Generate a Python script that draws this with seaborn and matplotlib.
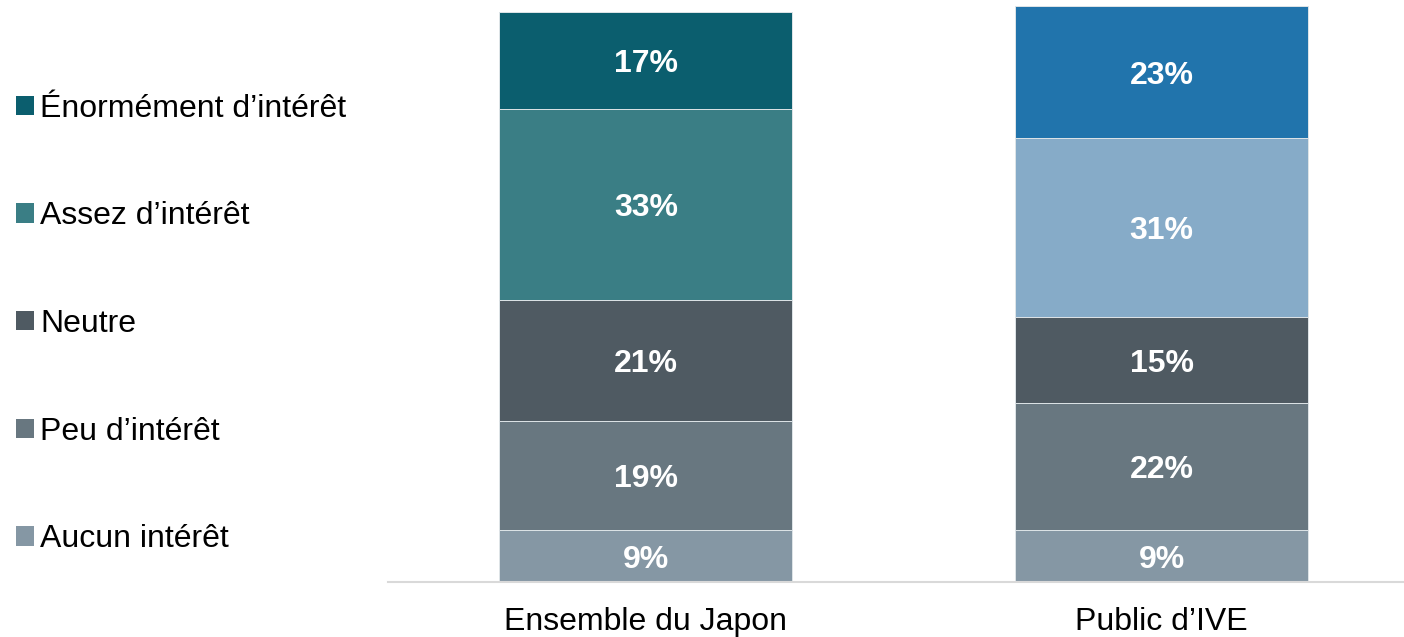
import seaborn as sns
import matplotlib.pyplot as plt
import numpy as np
import pandas as pd
from matplotlib.patches import Patch

# data
categories = ['Ensemble du Japon', 'Public d\u2019IVE']
levels = ['Aucun int\u00e9r\u00eat', 'Peu d\u2019int\u00e9r\u00eat', 'Neutre',
          'Assez d\u2019int\u00e9r\u00eat', '\u00c9norm\u00e9ment d\u2019int\u00e9r\u00eat']
japon = [9, 19, 21, 33, 17]
ive = [9, 22, 15, 31, 23]

# colours per level: (Japon bar, IVE bar)
level_colors = [('#8597a4', '#8597a4'),
                ('#687780', '#687780'),
                ('#4f5a62', '#4f5a62'),
                ('#3a7e85', '#86abc8'),
                ('#0b5e6e', '#2174ac')]

sns.set_theme(style='white')
plt.rcParams['font.family'] = ['Liberation Sans', 'DejaVu Sans']
plt.rcParams['text.color'] = 'black'

fig = plt.figure(figsize=(14.04, 6.37), dpi=100)
ax = fig.add_axes([388 / 1404, 55 / 637, 1 - 388 / 1404, 582 / 637])

cum_j = np.cumsum(japon)
cum_i = np.cumsum(ive)

# draw cumulative totals from top to bottom so each shorter bar covers the one before
for k in range(len(levels) - 1, -1, -1):
    df = pd.DataFrame({'cat': categories, 'total': [cum_j[k], cum_i[k]]})
    sns.barplot(data=df, x='cat', y='total', hue='cat', palette=list(level_colors[k]),
                saturation=1, width=0.568, legend=False, edgecolor='#dfe5e8',
                linewidth=0.7, ax=ax)

# value labels in the middle of each segment
for xi, (vals, cums) in enumerate([(japon, cum_j), (ive, cum_i)]):
    for v, c in zip(vals, cums):
        ax.text(xi, c - v / 2, f'{v}%', ha='center', va='center_baseline', color='white',
                fontsize=23, fontweight='bold')

ax.set_xlim(-0.5, 1.47)
ax.set_ylim(0, 101)
ax.set_xlabel('')
ax.set_ylabel('')
ax.set_yticks([])
ax.tick_params(axis='x', length=0, pad=18, labelsize=23, colors='black')
for s in ['top', 'right', 'left']:
    ax.spines[s].set_visible(False)
ax.spines['bottom'].set_color('#d9d9d9')
ax.spines['bottom'].set_linewidth(1.5)

# legend on the left, top level first
handles = [Patch(facecolor=level_colors[k][0], edgecolor='none', label=levels[k])
           for k in range(len(levels) - 1, -1, -1)]
fig.legend(handles=handles, loc='center left', bbox_to_anchor=(16 / 1404, 1 - 324 / 637),
           frameon=False, fontsize=23, handlelength=0.55, handleheight=0.55,
           handletextpad=0.2, labelspacing=2.43, borderpad=0, borderaxespad=0,
           labelcolor='black')

fig.savefig('out.png', dpi=100)
